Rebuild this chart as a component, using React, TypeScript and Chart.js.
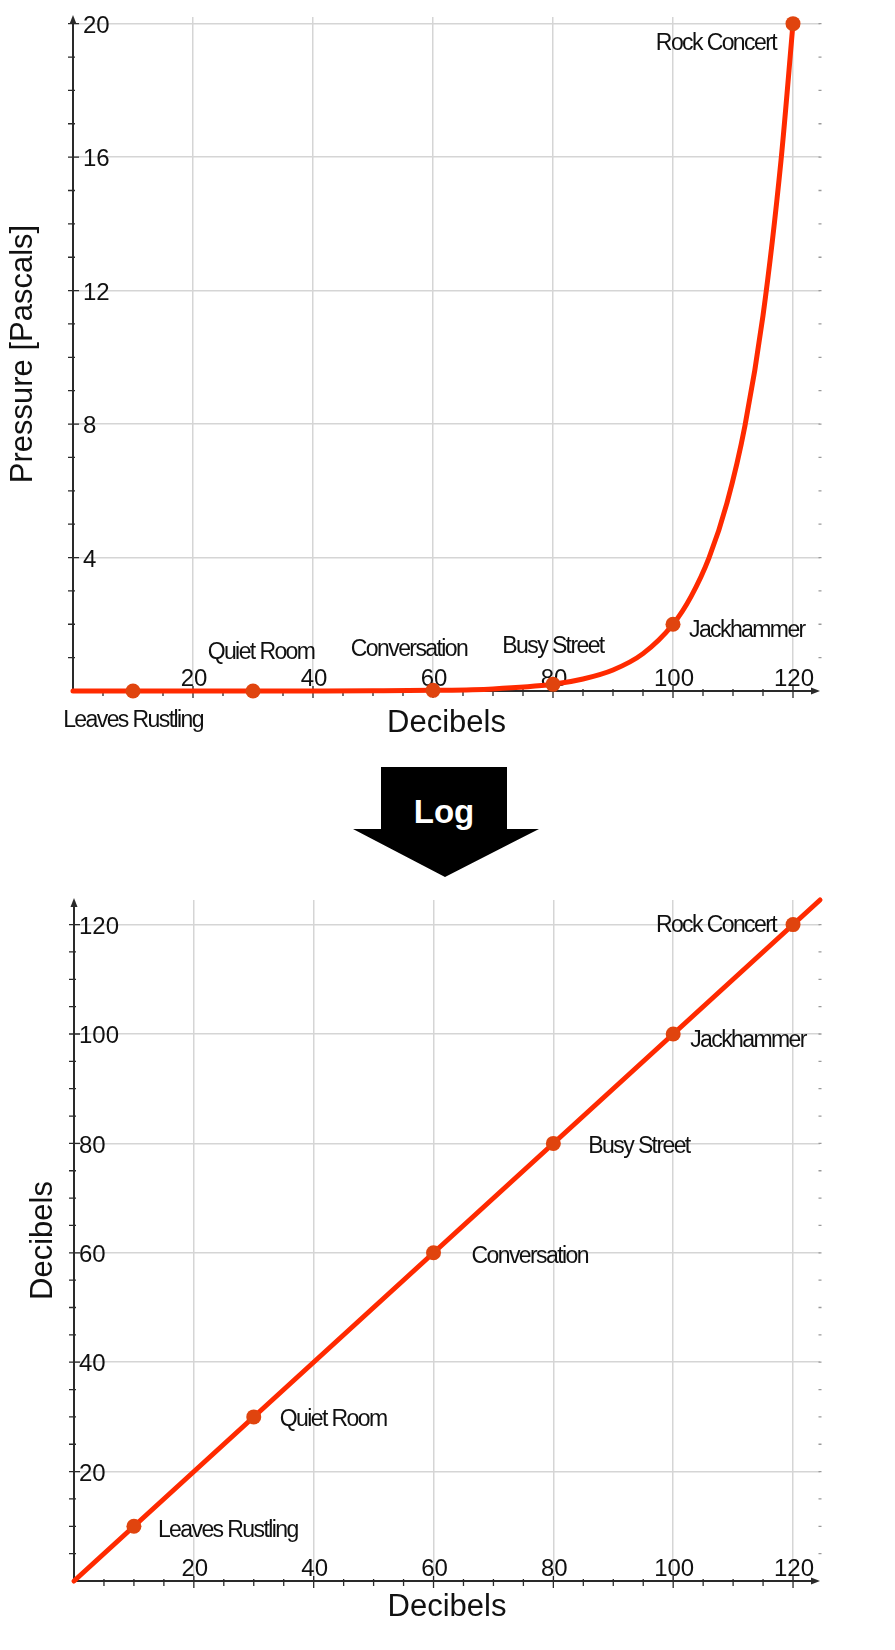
import { useEffect, useRef } from "react";
import { Chart, registerables, type ChartConfiguration } from "chart.js";

Chart.register(...registerables);

// ---- data ----
const sounds = ["Leaves Rustling", "Quiet Room", "Conversation", "Busy Street", "Jackhammer", "Rock Concert"];
const soundDb = [10, 30, 60, 80, 100, 120];
const soundPa = [0.00006, 0.0006, 0.02, 0.2, 2, 20];

// pressure curve (dB -> Pa)
const curveDb = [0, 10, 20, 30, 40, 50, 60, 70, 80, 85, 90, 95, 100, 103, 106, 109, 112, 115, 118, 120];
const curvePa = [
  0.00002, 0.000063, 0.0002, 0.00063, 0.002, 0.0063, 0.02, 0.063, 0.2, 0.36, 0.63, 1.12, 2.0, 2.83, 3.99, 5.64,
  7.96, 11.25, 15.9, 20.0,
];

// log view: straight line from origin to the top-right corner
const logLineDb = [0, 124.5];
const logLineLevel = [0, 124.5];

const topXTicks = [20, 40, 60, 80, 100, 120];
const topYTicks = [4, 8, 12, 16, 20];
const bottomXTicks = [20, 40, 60, 80, 100, 120];
const bottomYTicks = [20, 40, 60, 80, 100, 120];

// ---- styling ----
const FONT = '"Liberation Sans", Arial, Helvetica, sans-serif';
const INK = "#111111";
const GRID = "#d5d5d5";
const AXIS = "#2a2a2a";
const LINE_RED = "#ff2a00";
const DOT = "#e0440e";

type Place = { align: CanvasTextAlign; dx: number; dy: number };

interface PlotSpec {
  top: number;
  height: number;
  padTop: number;
  yAxisWidth: number;
  xAxisHeight: number;
  xMax: number;
  yMax: number;
  xTicks: number[];
  yTicks: number[];
  xMinor: number;
  yMinor: number;
  yTickPad: number;
  xTitle: string;
  yTitle: string;
  xTitlePad: number;
  yTitlePad: number;
  line: { x: number; y: number }[];
  points: { x: number; y: number }[];
  places: Place[];
}

const axisDecor = {
  id: "axisDecor",
  beforeDatasetsDraw(chart: Chart) {
    const { ctx, chartArea: a } = chart;
    const xs = chart.scales.x;
    const ys = chart.scales.y;
    const o = (chart.options.plugins as any).axisDecor;
    const x0 = xs.getPixelForValue(0);
    const y0 = ys.getPixelForValue(0);
    ctx.save();
    ctx.strokeStyle = AXIS;
    ctx.fillStyle = AXIS;
    ctx.lineWidth = 2;
    ctx.beginPath();
    ctx.moveTo(x0, a.bottom + 1);
    ctx.lineTo(x0, a.top + 4);
    ctx.moveTo(x0 - 1, y0);
    ctx.lineTo(a.right - 4, y0);
    ctx.stroke();

    // arrow heads
    ctx.beginPath();
    ctx.moveTo(x0, a.top - 2);
    ctx.lineTo(x0 - 3.5, a.top + 7);
    ctx.lineTo(x0 + 3.5, a.top + 7);
    ctx.closePath();
    ctx.fill();
    ctx.beginPath();
    ctx.moveTo(a.right, y0);
    ctx.lineTo(a.right - 9, y0 - 3.5);
    ctx.lineTo(a.right - 9, y0 + 3.5);
    ctx.closePath();
    ctx.fill();

    // minor / major tick marks on the axes
    ctx.lineWidth = 1.3;
    ctx.beginPath();
    for (let v = o.yMinor; v < ys.max; v += o.yMinor) {
      const py = ys.getPixelForValue(v);
      const major = o.yTicks.includes(v);
      ctx.moveTo(x0 - 5, py);
      ctx.lineTo(x0 + (major ? 6 : 2), py);
    }
    for (let v = o.xMinor; v < xs.max - 2; v += o.xMinor) {
      const px = xs.getPixelForValue(v);
      const major = o.xTicks.includes(v);
      ctx.moveTo(px, y0 - (major ? 5 : 2));
      ctx.lineTo(px, y0 + (major ? 7 : 5));
    }
    ctx.stroke();

    // faint marks along the right edge
    ctx.strokeStyle = "#9a9a9a";
    ctx.beginPath();
    for (let v = o.yMinor; v < ys.max; v += o.yMinor) {
      const py = ys.getPixelForValue(v);
      ctx.moveTo(a.right - 1.5, py);
      ctx.lineTo(a.right + 1.5, py);
    }
    ctx.stroke();
    ctx.restore();
  },
  afterDatasetsDraw(chart: Chart) {
    const { ctx } = chart;
    const o = (chart.options.plugins as any).axisDecor;
    const meta = chart.getDatasetMeta(0);
    ctx.save();
    ctx.font = `23px ${FONT}`;
    (ctx as any).letterSpacing = "-1.6px";
    ctx.fillStyle = INK;
    ctx.textBaseline = "alphabetic";
    o.places.forEach((p: Place, i: number) => {
      const pt = meta.data[i];
      if (!pt) return;
      ctx.textAlign = p.align;
      ctx.fillText(sounds[i], pt.x + p.dx, pt.y + p.dy);
    });
    (ctx as any).letterSpacing = "0px";
    ctx.restore();
  },
};

function buildConfig(spec: PlotSpec): ChartConfiguration<"scatter"> {
  return {
    type: "scatter",
    data: {
      datasets: [
        {
          data: spec.points,
          showLine: false,
          pointRadius: 7.5,
          pointHoverRadius: 7.5,
          pointBackgroundColor: DOT,
          pointBorderColor: DOT,
          pointBorderWidth: 0,
          clip: false,
        },
        {
          data: spec.line,
          showLine: true,
          pointRadius: 0,
          pointHoverRadius: 0,
          borderColor: LINE_RED,
          borderWidth: 5,
          borderCapStyle: "round",
          cubicInterpolationMode: "monotone",
          clip: false,
        },
      ],
    },
    options: {
      animation: false,
      responsive: true,
      maintainAspectRatio: false,
      events: [],
      layout: { padding: { top: spec.padTop, right: 75, left: 0, bottom: 0 } },
      plugins: {
        legend: { display: false },
        tooltip: { enabled: false },
        axisDecor: {
          xMinor: spec.xMinor,
          yMinor: spec.yMinor,
          xTicks: spec.xTicks,
          yTicks: spec.yTicks,
          places: spec.places,
        },
      } as any,
      scales: {
        x: {
          type: "linear",
          position: "bottom",
          min: 0,
          max: spec.xMax,
          afterBuildTicks: (s: any) => {
            s.ticks = spec.xTicks.map((value) => ({ value }));
          },
          afterFit: (s: any) => {
            s.height = spec.xAxisHeight;
            s.paddingLeft = 0;
            s.paddingRight = 0;
          },
          grid: { color: GRID, lineWidth: 1.5, drawTicks: false },
          border: { display: false },
          ticks: {
            mirror: true,
            padding: 0,
            labelOffset: 1,
            color: INK,
            autoSkip: false,
            maxRotation: 0,
            font: { family: FONT, size: 24, lineHeight: 1 },
          },
          title: {
            display: true,
            text: spec.xTitle,
            color: INK,
            font: { family: FONT, size: 31 },
            padding: { top: 0, bottom: spec.xTitlePad },
          },
        },
        y: {
          type: "linear",
          position: "left",
          min: 0,
          max: spec.yMax,
          afterBuildTicks: (s: any) => {
            s.ticks = spec.yTicks.map((value) => ({ value }));
          },
          afterFit: (s: any) => {
            s.width = spec.yAxisWidth;
            s.paddingTop = 0;
            s.paddingBottom = 0;
          },
          grid: { color: GRID, lineWidth: 1.5, drawTicks: false },
          border: { display: false },
          ticks: {
            mirror: true,
            padding: spec.yTickPad,
            labelOffset: 2.5,
            color: INK,
            font: { family: FONT, size: 24 },
          },
          title: {
            display: true,
            text: spec.yTitle,
            color: INK,
            font: { family: FONT, size: 31 },
            padding: { top: spec.yTitlePad, bottom: 0 },
          },
        },
      },
    },
    plugins: [axisDecor as any],
  };
}

const pressureSpec: PlotSpec = {
  top: 0,
  height: 751,
  padTop: 17,
  yAxisWidth: 73,
  xAxisHeight: 60,
  xMax: 124.5,
  yMax: 20.2,
  xTicks: topXTicks,
  yTicks: topYTicks,
  xMinor: 5,
  yMinor: 1,
  yTickPad: 10,
  xTitle: "Decibels",
  yTitle: "Pressure [Pascals]",
  xTitlePad: 9,
  yTitlePad: 5,
  line: curveDb.map((x, i) => ({ x, y: curvePa[i] })),
  points: soundDb.map((x, i) => ({ x, y: soundPa[i] })),
  places: [
    { align: "center", dx: 0, dy: 36 },
    { align: "center", dx: 8, dy: -32 },
    { align: "center", dx: -24, dy: -34 },
    { align: "center", dx: 0, dy: -31 },
    { align: "left", dx: 16, dy: 13 },
    { align: "right", dx: -17, dy: 26 },
  ],
};

const logSpec: PlotSpec = {
  top: 840,
  height: 810,
  padTop: 60,
  yAxisWidth: 74,
  xAxisHeight: 69,
  xMax: 124.5,
  yMax: 124.5,
  xTicks: bottomXTicks,
  yTicks: bottomYTicks,
  xMinor: 5,
  yMinor: 5,
  yTickPad: 5,
  xTitle: "Decibels",
  yTitle: "Decibels",
  xTitlePad: 24,
  yTitlePad: 25,
  line: logLineDb.map((x, i) => ({ x, y: logLineLevel[i] })),
  points: soundDb.map((x) => ({ x, y: x })),
  places: [
    { align: "left", dx: 24, dy: 11 },
    { align: "left", dx: 26, dy: 9 },
    { align: "left", dx: 38, dy: 10 },
    { align: "left", dx: 35, dy: 10 },
    { align: "left", dx: 17, dy: 13 },
    { align: "right", dx: -17, dy: 7 },
  ],
};

function SoundChart({ spec }: { spec: PlotSpec }) {
  const canvasRef = useRef<HTMLCanvasElement>(null);

  useEffect(() => {
    if (!canvasRef.current) return;
    const chart = new Chart(canvasRef.current, buildConfig(spec));
    return () => {
      chart.destroy();
    };
  }, [spec]);

  return (
    <div style={{ position: "absolute", left: 0, top: spec.top, width: 895, height: spec.height }}>
      <canvas ref={canvasRef} />
    </div>
  );
}

function LogArrow() {
  return (
    <div
      style={{
        position: "absolute",
        left: 353,
        top: 767,
        width: 186,
        height: 110,
        background: "#000",
        clipPath: "polygon(28px 0, 154px 0, 154px 62px, 186px 62px, 92px 110px, 0 62px, 28px 62px)",
      }}
    >
      <div
        style={{
          position: "absolute",
          left: 28,
          top: 28,
          width: 126,
          height: 34,
          display: "flex",
          alignItems: "center",
          justifyContent: "center",
          color: "#fff",
          fontFamily: FONT,
          fontWeight: "bold",
          fontSize: 33,
        }}
      >
        Log
      </div>
    </div>
  );
}

export default function App() {
  return (
    <div style={{ position: "absolute", left: 0, top: 0, width: 895, height: 1650, background: "#fff" }}>
      <SoundChart spec={pressureSpec} />
      <LogArrow />
      <SoundChart spec={logSpec} />
    </div>
  );
}
